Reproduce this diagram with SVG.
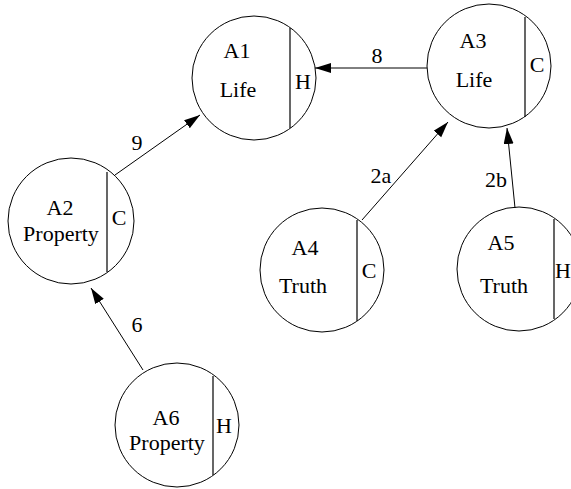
<svg xmlns="http://www.w3.org/2000/svg" width="571" height="489" viewBox="0 0 571 489">
<defs>
<style>
.n{fill:#fff;stroke:#000;stroke-width:1}
.d{stroke:#000;stroke-width:1.2}
text{font-family:'Times New Roman',Times,Tinos,'Liberation Serif','Nimbus Roman','FreeSerif','DejaVu Serif',serif;font-size:22px;fill:#000;text-anchor:middle}
.e{stroke:#000;stroke-width:1;fill:none;marker-end:url(#ah)}
</style>
<marker id="ah" markerUnits="userSpaceOnUse" markerWidth="17" markerHeight="11" refX="16" refY="5" orient="auto">
<path d="M0,0 L16,5 L0,10 z" fill="#000"/>
</marker>
</defs>
<rect width="571" height="489" fill="#fff"/>
<g id="A1">
<circle class="n" cx="254" cy="78" r="62"/>
<line class="d" x1="290" y1="28" x2="290" y2="128"/>
<text x="237" y="58">A1</text>
<text x="238" y="97">Life</text>
<text x="303" y="89">H</text>
</g>
<g id="A3">
<circle class="n" cx="489" cy="66" r="62"/>
<line class="d" x1="525" y1="17" x2="525" y2="117"/>
<text x="473" y="48">A3</text>
<text x="474" y="87">Life</text>
<text x="537" y="72">C</text>
</g>
<g id="A2">
<circle class="n" cx="71" cy="221" r="63"/>
<line class="d" x1="107" y1="172" x2="107" y2="272"/>
<text x="60" y="215">A2</text>
<text x="61" y="241">Property</text>
<text x="119" y="225">C</text>
</g>
<g id="A4">
<circle class="n" cx="322" cy="270" r="62"/>
<line class="d" x1="357" y1="220" x2="357" y2="321"/>
<text x="305" y="255">A4</text>
<text x="303" y="293">Truth</text>
<text x="369" y="278">C</text>
</g>
<g id="A5">
<circle class="n" cx="519" cy="269" r="62"/>
<line class="d" x1="554" y1="219" x2="554" y2="319"/>
<text x="501" y="250">A5</text>
<text x="504" y="293">Truth</text>
<text x="563" y="278">H</text>
</g>
<g id="A6">
<circle class="n" cx="177" cy="425" r="62"/>
<line class="d" x1="213" y1="376" x2="213" y2="475"/>
<text x="166" y="425">A6</text>
<text x="167" y="450">Property</text>
<text x="224" y="433">H</text>
</g>
<g id="connectors">
<line class="e" x1="427" y1="68" x2="315" y2="68"/>
<text x="377" y="63">8</text>
<line class="e" x1="115" y1="175" x2="200" y2="115"/>
<text x="137" y="150">9</text>
<line class="e" x1="362" y1="220" x2="448" y2="122"/>
<text x="381" y="183">2a</text>
<line class="e" x1="515" y1="208" x2="507" y2="128"/>
<text x="496" y="187">2b</text>
<line class="e" x1="143" y1="370" x2="91" y2="288"/>
<text x="137" y="332">6</text>
</g>
</svg>
